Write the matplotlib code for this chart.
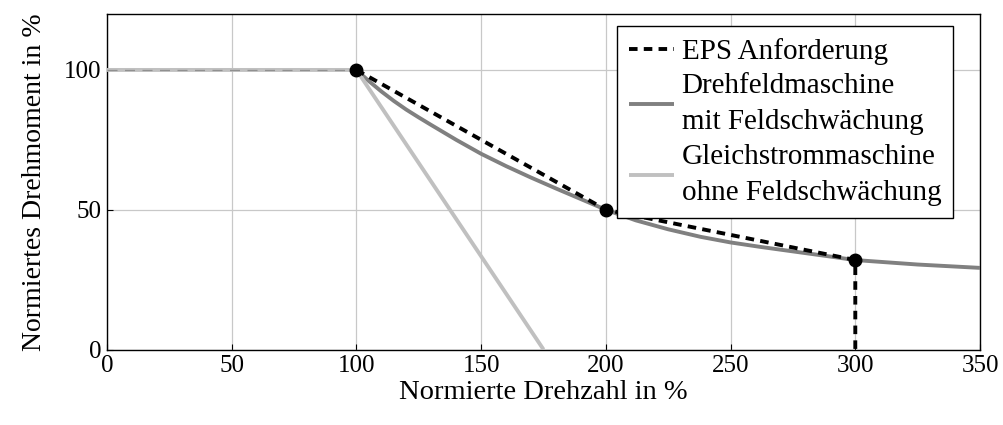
import matplotlib
matplotlib.use("Agg")
import matplotlib.pyplot as plt

plt.rcParams['font.family'] = ['Liberation Serif', 'DejaVu Serif']

# EPS Anforderung (Stuetzpunkte)
eps_x = [100, 200, 300, 300]
eps_y = [100, 50, 32, 0]
pts_x = [100, 200, 300]
pts_y = [100, 50, 32]

# Drehfeldmaschine mit Feldschwaechung
dfm_x = [100, 105, 110, 115, 120, 125, 130, 140, 150, 160, 170, 180, 190,
         200, 212, 225, 238, 250, 262, 275, 288, 300, 325, 350]
dfm_y = [100, 96, 92.3, 88.9, 85.8, 83, 80.3, 75, 70, 65.6, 61.5, 57.6, 53.8,
         50, 46.2, 43, 40.3, 38.3, 36.7, 35.1, 33.5, 32, 30.4, 29.2]

# Gleichstrommaschine ohne Feldschwaechung
gsm_x = [0, 100, 175]
gsm_y = [100, 100, 0]

# Konstantbereich
base_x = [0, 100]
base_y = [100, 100]

fig = plt.figure(figsize=(10.04, 4.25), dpi=100)
ax = fig.add_axes([0.1066, 0.1776, 0.8695, 0.7894])

ax.plot(dfm_x, dfm_y, color='#808080', lw=2.8, solid_capstyle='butt',
        label='Drehfeldmaschine\nmit Feldschwächung', zorder=3)
ax.plot(gsm_x, gsm_y, color='#c0c0c0', lw=2.8, solid_capstyle='butt',
        label='Gleichstrommaschine\nohne Feldschwächung', zorder=3)
ax.plot(base_x, base_y, color='#909090', lw=0.9, dashes=(8, 6), zorder=4)
ax.plot(eps_x, eps_y, color='black', lw=2.8, dashes=(2.2, 1.6),
        label='EPS Anforderung', zorder=5)
ax.plot(pts_x, pts_y, 'o', color='black', ms=9, zorder=6)

ax.set_xlim(0, 350)
ax.set_ylim(0, 120)
ax.set_xticks(range(0, 351, 50))
ax.set_yticks([0, 50, 100])
ax.grid(True, color='#c8c8c8', lw=0.9)
ax.set_axisbelow(True)
ax.tick_params(direction='in', labelsize=18, length=4, width=0.8, pad=4)
for s in ax.spines.values():
    s.set_linewidth(1.0)

ax.set_xlabel('Normierte Drehzahl in %', fontsize=20.5, labelpad=2)
ax.set_ylabel('Normiertes Drehmoment in %', fontsize=20, labelpad=12)

h, l = ax.get_legend_handles_labels()
order = [2, 0, 1]
leg = ax.legend([h[i] for i in order], [l[i] for i in order],
                loc='upper right', bbox_to_anchor=(0.969, 0.964),
                borderaxespad=0, fontsize=21, fancybox=False,
                edgecolor='black', framealpha=1, handlelength=1.55,
                handletextpad=0.25, labelspacing=0.3, borderpad=0.4)
leg.get_frame().set_linewidth(1.0)
for t in leg.get_texts():
    t.set_linespacing(1.5)

fig.savefig('out.png', dpi=100)
